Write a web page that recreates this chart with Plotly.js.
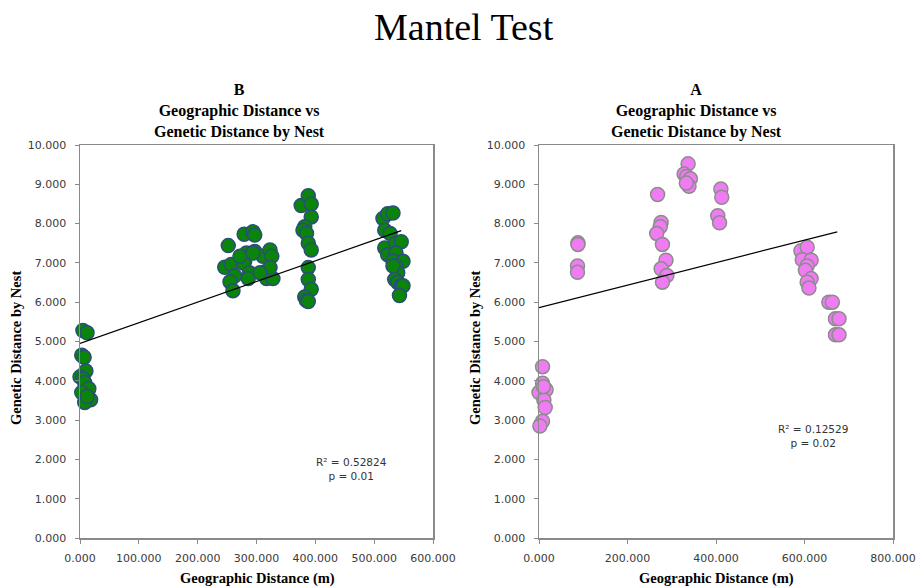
<!DOCTYPE html>
<html><head><meta charset="utf-8">
<script src="https://cdn.plot.ly/plotly-3.0.1.min.js"></script>
<style>html,body{margin:0;padding:0;background:#fff;}#chart{width:916px;height:587px;}</style>
</head><body><div id="chart"></div>
<script>
// Chart B (left) data
const bX = [5,12,3,7,10,0,5,8,15,3,18,8,12,
  252,246,257,263,255,260,279,294,297,283,280,277,288,286,272,297,311,323,326,314,317,328,323,306,294,
  376,388,393,393,382,379,385,388,393,388,388,393,382,385,388,
  515,523,532,518,527,518,523,537,546,537,532,549,537,540,535,540,546,549,543,532];
const bY = [5.28,5.22,4.65,4.6,4.25,4.1,4.05,3.95,3.8,3.7,3.52,3.45,3.6,
  7.44,6.89,6.96,6.67,6.52,6.29,7.73,7.79,7.71,7.25,7.04,7.0,6.75,6.6,7.17,7.29,7.17,7.33,7.17,6.77,6.6,6.6,6.88,6.75,7.25,
  8.46,8.71,8.5,8.17,7.92,7.83,7.75,7.5,7.33,6.88,6.58,6.33,6.13,6.04,6.02,
  8.13,8.25,8.27,7.83,7.75,7.38,7.21,7.5,7.54,7.25,7.04,7.04,6.93,6.75,6.58,6.5,6.42,6.42,6.17,6.92];
const bTrendX = [0, 546];
const bTrendY = [4.95, 7.82];

// Chart A (right) data
const aX = [88,88,87,87,
  268,276,274,266,279,287,276,289,279,
  337,328,334,342,339,333,
  411,413,404,408,
  592,606,595,615,606,602,615,606,610,
  655,663,670,678,670,678,
  8,8,16,0,11,14,8,2,10];
const aY = [7.51,7.47,6.92,6.76,
  8.74,8.03,7.92,7.75,7.47,7.07,6.85,6.68,6.51,
  9.52,9.26,9.2,9.14,8.95,9.03,
  8.88,8.67,8.2,8.02,
  7.31,7.4,7.08,7.07,6.92,6.81,6.6,6.51,6.36,
  6.0,6.0,5.58,5.58,5.17,5.17,
  4.36,3.94,3.77,3.7,3.51,3.32,2.97,2.85,3.85];
const aTrendX = [0, 674];
const aTrendY = [5.86, 7.79];

const W = 916, H = 587;
const px = v => v / W, py = v => 1 - v / H;

const tickFont = {family: 'DejaVu Sans, sans-serif', size: 11, color: '#3a3a3a'};
const serif = 'Liberation Serif, Times New Roman, serif';

function axisX(range, dtick, domain, anchor) {
  return {range: range, dtick: dtick, tick0: 0, tickformat: '.3f', domain: domain, anchor: anchor,
    showgrid: false, zeroline: false, showline: true, mirror: true, linecolor: '#8a8a8a', linewidth: 1.5,
    ticks: 'outside', ticklen: 4, tickcolor: '#8a8a8a', tickfont: tickFont, ticklabelstandoff: 5, fixedrange: true};
}
function axisY(domain, anchor) {
  return {range: [0, 10], dtick: 1, tick0: 0, tickformat: '.3f', domain: domain, anchor: anchor,
    showgrid: false, zeroline: false, showline: true, mirror: true, linecolor: '#8a8a8a', linewidth: 1.5,
    ticks: 'outside', ticklen: 4, tickcolor: '#8a8a8a', tickfont: tickFont, ticklabelstandoff: 6, fixedrange: true};
}

const yDom = [py(538), py(145)];

const traces = [
  {x: bX, y: bY, type: 'scatter', mode: 'markers', xaxis: 'x', yaxis: 'y', cliponaxis: false,
    marker: {size: 14, color: '#0a840a', line: {color: '#2a4f78', width: 1.5}}},
  {x: bTrendX, y: bTrendY, type: 'scatter', mode: 'lines', xaxis: 'x', yaxis: 'y',
    line: {color: '#000', width: 1.2}},
  {x: aX, y: aY, type: 'scatter', mode: 'markers', xaxis: 'x2', yaxis: 'y2', cliponaxis: false,
    marker: {size: 14, color: '#f07cf4', line: {color: '#8c8c8c', width: 1.5}}},
  {x: aTrendX, y: aTrendY, type: 'scatter', mode: 'lines', xaxis: 'x2', yaxis: 'y2',
    line: {color: '#000', width: 1.2}}
];

const subFont = {family: serif, size: 16, color: '#000'};
const axFont = {family: serif, size: 14.5, color: '#000'};

const layout = {
  width: W, height: H, showlegend: false,
  margin: {l: 0, r: 0, t: 0, b: 0},
  paper_bgcolor: '#fff', plot_bgcolor: '#fff',
  xaxis: axisX([0, 600], 100, [px(80), px(433)], 'y'),
  yaxis: axisY(yDom, 'x'),
  xaxis2: axisX([0, 800], 200, [px(539), px(893)], 'y2'),
  yaxis2: axisY(yDom, 'x2'),
  annotations: [
    {text: 'Mantel Test', xref: 'paper', yref: 'paper', x: px(464), y: py(27), xanchor: 'center', yanchor: 'middle',
      showarrow: false, font: {family: serif, size: 38, color: '#000'}},
    {text: '<b>B</b><br><b>Geographic Distance vs</b><br><b>Genetic Distance by Nest</b>', xref: 'paper', yref: 'paper',
      x: px(239), y: py(111), xanchor: 'center', yanchor: 'middle', showarrow: false, font: subFont},
    {text: '<b>A</b><br><b>Geographic Distance vs</b><br><b>Genetic Distance by Nest</b>', xref: 'paper', yref: 'paper',
      x: px(696), y: py(111), xanchor: 'center', yanchor: 'middle', showarrow: false, font: subFont},
    {text: '<b>Genetic Distance by Nest</b>', xref: 'paper', yref: 'paper', x: px(16), y: py(348), textangle: -90,
      xanchor: 'center', yanchor: 'middle', showarrow: false, font: axFont},
    {text: '<b>Genetic Distance by Nest</b>', xref: 'paper', yref: 'paper', x: px(475), y: py(348), textangle: -90,
      xanchor: 'center', yanchor: 'middle', showarrow: false, font: axFont},
    {text: '<b>Geographic Distance (m)</b>', xref: 'paper', yref: 'paper', x: px(257), y: py(578),
      xanchor: 'center', yanchor: 'middle', showarrow: false, font: axFont},
    {text: '<b>Geographic Distance (m)</b>', xref: 'paper', yref: 'paper', x: px(716), y: py(578),
      xanchor: 'center', yanchor: 'middle', showarrow: false, font: axFont},
    {text: 'R² = 0.52824<br>p = 0.01', xref: 'x', yref: 'y', x: 462, y: 1.76, xanchor: 'center', yanchor: 'middle',
      showarrow: false, font: {family: 'DejaVu Sans, sans-serif', size: 10.5, color: '#333'}},
    {text: 'R² = 0.12529<br>p = 0.02', xref: 'x2', yref: 'y2', x: 619, y: 2.6, xanchor: 'center', yanchor: 'middle',
      showarrow: false, font: {family: 'DejaVu Sans, sans-serif', size: 10.5, color: '#333'}}
  ]
};

Plotly.newPlot('chart', traces, layout, {displayModeBar: false, staticPlot: true});
</script></body></html>
